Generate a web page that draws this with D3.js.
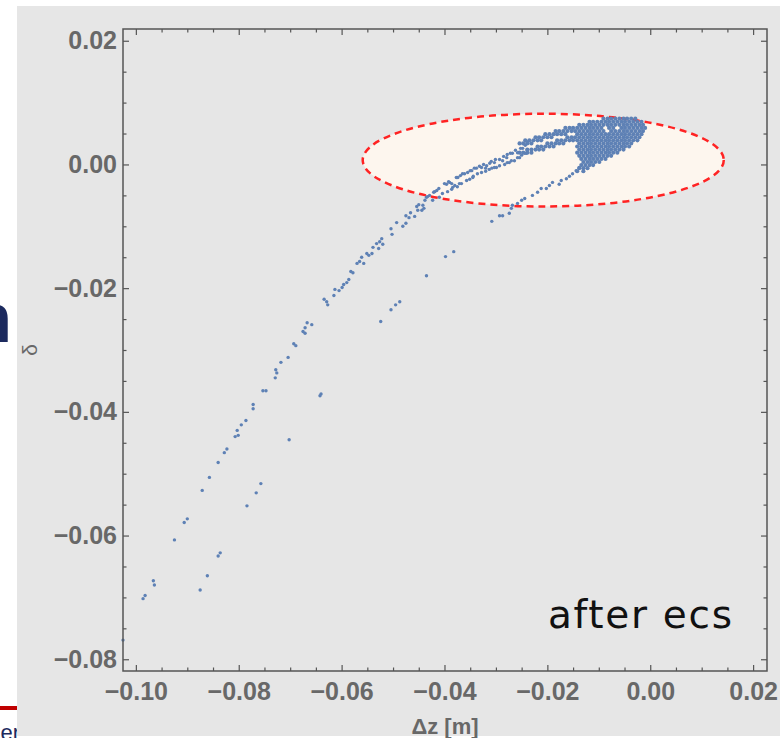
<!DOCTYPE html>
<html>
<head>
<meta charset="utf-8">
<script src="https://cdn.jsdelivr.net/npm/d3@7"></script>
<style>
  body { margin: 0; background: #fff; }
  svg { display: block; }
</style>
</head>
<body>
<div id="viz"></div>
<script>
// tick values
const xTicks = [-0.10, -0.08, -0.06, -0.04, -0.02, 0.00, 0.02];
const yTicks = [0.02, 0.00, -0.02, -0.04, -0.06, -0.08];

// sparse particles, upper arm  [dz, delta]
const upperBranch = [
  [-0.1025,-0.0769],[-0.0986,-0.0702],[-0.0982,-0.0697],[-0.0966,-0.0673],[-0.0964,-0.0680],
  [-0.0925,-0.0607],[-0.0906,-0.0579],[-0.0900,-0.0573],[-0.0871,-0.0527],[-0.0857,-0.0506],
  [-0.0840,-0.0482],[-0.0828,-0.0466],[-0.0823,-0.0460],[-0.0807,-0.0440],[-0.0801,-0.0438],
  [-0.0803,-0.0430],[-0.0795,-0.0421],[-0.0786,-0.0414],[-0.0772,-0.0388],[-0.0772,-0.0395],
  [-0.0753,-0.0366],[-0.0747,-0.0366],[-0.0729,-0.0345],[-0.0726,-0.0337],[-0.0728,-0.0332],
  [-0.0718,-0.0320],[-0.0704,-0.0312],[-0.0693,-0.0290],[-0.0689,-0.0293],[-0.0675,-0.0270],
  [-0.0671,-0.0273],[-0.0671,-0.0264],[-0.0667,-0.0256],[-0.0658,-0.0259],[-0.0634,-0.0218],
  [-0.0629,-0.0222],[-0.0627,-0.0227],[-0.0615,-0.0212],[-0.0613,-0.0202],[-0.0605,-0.0204],
  [-0.0599,-0.0199],[-0.0596,-0.0194],[-0.0590,-0.0191],[-0.0586,-0.0186],[-0.0582,-0.0173],
  [-0.0578,-0.0175],[-0.0570,-0.0160],[-0.0565,-0.0157],[-0.0561,-0.0150],[-0.0557,-0.0160],
  [-0.0551,-0.0144],[-0.0547,-0.0147],[-0.0541,-0.0144],[-0.0539,-0.0134],[-0.0532,-0.0128],
  [-0.0528,-0.0136],[-0.0526,-0.0125],[-0.0522,-0.0120],[-0.0520,-0.0129],[-0.0504,-0.0104],
  [-0.0502,-0.0113],[-0.0493,-0.0094],[-0.0481,-0.0100],[-0.0475,-0.0095],[-0.0475,-0.0083],
  [-0.0469,-0.0086],[-0.0466,-0.0078],[-0.0458,-0.0084],[-0.0454,-0.0068],[-0.0450,-0.0065],
  [-0.0444,-0.0074],[-0.0440,-0.0071],[-0.0438,-0.0058],[-0.0433,-0.0052],[-0.0423,-0.0058],
  [-0.0419,-0.0044],[-0.0411,-0.0039],[-0.0404,-0.0047],[-0.0396,-0.0032],[-0.0386,-0.0031],
  [-0.0384,-0.0037],[-0.0452,-0.0074],[-0.0442,-0.0066],[-0.0435,-0.0053],[-0.0429,-0.0050],
  [-0.0421,-0.0045],[-0.0415,-0.0042],[-0.0390,-0.0029],[-0.0380,-0.0034],[-0.0374,-0.0021],
  [-0.0371,-0.0031],[-0.0365,-0.0015],[-0.0357,-0.0026],[-0.0355,-0.0013],[-0.0347,-0.0010],
  [-0.0345,-0.0021],[-0.0338,-0.0006],[-0.0336,-0.0015],[-0.0328,-0.0005],[-0.0320,-0.0006],
  [-0.0318,-0.0002],[-0.0312,0.0002],[-0.0308,-0.0006],[-0.0303,0.0003],[-0.0299,-0.0005],
  [-0.0293,0.0008],[-0.0287,0.0006],[-0.0283,0.0000],[-0.0279,0.0011],[-0.0274,0.0003],
  [-0.0268,0.0018],[-0.0264,0.0006],[-0.0258,0.0019],[-0.0254,0.0011],[-0.0248,0.0026],
  [-0.0244,0.0018],[-0.0239,0.0036],[-0.0239,0.0023]
];

// extra particles thickening the two parallel streaks entering the ellipse
const innerBands = [
  [-0.0400,-0.0031],[-0.0392,-0.0028],[-0.0377,-0.0021],[-0.0369,-0.0018],[-0.0361,-0.0015],
  [-0.0350,-0.0010],[-0.0342,-0.0006],[-0.0332,-0.0003],[-0.0324,0.0000],[-0.0309,0.0005],
  [-0.0301,0.0008],[-0.0285,0.0013],[-0.0278,0.0016],[-0.0272,0.0018],[-0.0262,0.0023],
  [-0.0252,0.0026],[-0.0243,0.0031],
  [-0.0410,-0.0053],[-0.0394,-0.0044],[-0.0386,-0.0040],[-0.0375,-0.0036],[-0.0367,-0.0031],
  [-0.0351,-0.0024],[-0.0344,-0.0019],[-0.0328,-0.0013],[-0.0320,-0.0011],[-0.0313,-0.0008],
  [-0.0303,-0.0005],[-0.0293,-0.0002],[-0.0278,0.0003],[-0.0270,0.0006],[-0.0258,0.0011],
  [-0.0250,0.0015],[-0.0241,0.0018]
];

// sparse particles, lower arm (hook)
const lowerBranch = [
  [-0.0875,-0.0688],[-0.0861,-0.0665],[-0.0840,-0.0633],[-0.0836,-0.0628],[-0.0784,-0.0552],
  [-0.0766,-0.0531],[-0.0757,-0.0516],[-0.0702,-0.0445],[-0.0642,-0.0374],[-0.0640,-0.0371],
  [-0.0524,-0.0254],[-0.0504,-0.0235],[-0.0495,-0.0227],[-0.0487,-0.0222],[-0.0435,-0.0180],
  [-0.0398,-0.0149],[-0.0382,-0.0141],[-0.0308,-0.0092],[-0.0293,-0.0083],[-0.0287,-0.0083],
  [-0.0274,-0.0079],[-0.0270,-0.0071],[-0.0268,-0.0066],[-0.0258,-0.0063],[-0.0250,-0.0058],
  [-0.0244,-0.0055],[-0.0229,-0.0050],[-0.0219,-0.0045],[-0.0212,-0.0039],[-0.0202,-0.0039],
  [-0.0196,-0.0034],[-0.0190,-0.0029],[-0.0177,-0.0032],[-0.0173,-0.0026],[-0.0163,-0.0023],
  [-0.0157,-0.0019],[-0.0151,-0.0015],[-0.0144,-0.0010],[-0.0138,-0.0005]
];

// dense core, read row by row: [delta, [dz, ...]]
const coreRows = [
  [0.0074, [-0.0091,-0.0083,-0.0076,-0.0068,-0.0060,-0.0052,-0.0045,-0.0037,-0.0029]],
  [0.0069, [-0.0118,-0.0111,-0.0103,-0.0095,-0.0087,-0.0080,-0.0072,-0.0064,-0.0056,-0.0049,-0.0041,-0.0033,-0.0025,-0.0017]],
  [0.0064, [-0.0138,-0.0130,-0.0122,-0.0115,-0.0107,-0.0099,-0.0091,-0.0083,-0.0076,-0.0068,-0.0060,-0.0052,-0.0045,-0.0037,-0.0029,-0.0021,-0.0014]],
  [0.0059, [-0.0165,-0.0157,-0.0150,-0.0142,-0.0134,-0.0126,-0.0118,-0.0111,-0.0103,-0.0095,-0.0080,-0.0072,-0.0056,-0.0049,-0.0041,-0.0033,-0.0025,-0.0017,-0.0010]],
  [0.0054, [-0.0184,-0.0177,-0.0169,-0.0161,-0.0153,-0.0146,-0.0138,-0.0130,-0.0122,-0.0115,-0.0107,-0.0099,-0.0091,-0.0076,-0.0068,-0.0060,-0.0052,-0.0045,-0.0037,-0.0029,-0.0021,-0.0014]],
  [0.0049, [-0.0204,-0.0196,-0.0188,-0.0181,-0.0173,-0.0165,-0.0142,-0.0134,-0.0126,-0.0118,-0.0111,-0.0103,-0.0095,-0.0087,-0.0080,-0.0072,-0.0064,-0.0056,-0.0049,-0.0041,-0.0033,-0.0025,-0.0017]],
  [0.0044, [-0.0223,-0.0216,-0.0208,-0.0200,-0.0192,-0.0161,-0.0153,-0.0146,-0.0138,-0.0130,-0.0122,-0.0115,-0.0107,-0.0099,-0.0091,-0.0083,-0.0076,-0.0068,-0.0060,-0.0052,-0.0045,-0.0037,-0.0029,-0.0021]],
  [0.0039, [-0.0243,-0.0235,-0.0227,-0.0219,-0.0212,-0.0181,-0.0173,-0.0165,-0.0157,-0.0150,-0.0142,-0.0134,-0.0126,-0.0118,-0.0111,-0.0103,-0.0095,-0.0087,-0.0080,-0.0072,-0.0064,-0.0056,-0.0049,-0.0041,-0.0033,-0.0025]],
  [0.0034, [-0.0254,-0.0247,-0.0239,-0.0231,-0.0200,-0.0192,-0.0184,-0.0177,-0.0169,-0.0138,-0.0130,-0.0122,-0.0115,-0.0107,-0.0099,-0.0091,-0.0083,-0.0076,-0.0068,-0.0060,-0.0052,-0.0045,-0.0037]],
  [0.0029, [-0.0219,-0.0212,-0.0204,-0.0196,-0.0188,-0.0142,-0.0134,-0.0126,-0.0118,-0.0111,-0.0103,-0.0095,-0.0087,-0.0080,-0.0072,-0.0064,-0.0056,-0.0049,-0.0041]],
  [0.0024, [-0.0239,-0.0231,-0.0223,-0.0216,-0.0208,-0.0138,-0.0130,-0.0122,-0.0115,-0.0107,-0.0099,-0.0091,-0.0083,-0.0076,-0.0068,-0.0060,-0.0052]],
  [0.0019, [-0.0254,-0.0247,-0.0239,-0.0231,-0.0142,-0.0134,-0.0126,-0.0118,-0.0111,-0.0103,-0.0095,-0.0087,-0.0080,-0.0072,-0.0064]],
  [0.0014, [-0.0138,-0.0130,-0.0122,-0.0115,-0.0107,-0.0099,-0.0091,-0.0083,-0.0076]],
  [0.0009, [-0.0134,-0.0126,-0.0118,-0.0111,-0.0103,-0.0095,-0.0087]],
  [0.0004, [-0.0130,-0.0122,-0.0115,-0.0107,-0.0099]],
  [-0.0001, [-0.0134,-0.0126,-0.0118,-0.0111]],
  [-0.0006, [-0.0138,-0.0130,-0.0122]],
  [-0.0011, [-0.0142,-0.0130]]
];

// highlighted acceptance region (ellipse), data units
const focusCenter = [-0.0208, 0.0007];
const focusRadius = [0.0351, 0.0075];

const width = 780;
const height = 738;
const margin = { top: 29, right: 13, bottom: 67, left: 123 };

const sparse = upperBranch.concat(lowerBranch).concat(innerBands);
const core = coreRows.flatMap(([delta, row]) => row.map(dz => [dz, delta]));

const svg = d3.select("#viz").append("svg")
    .attr("width", width)
    .attr("height", height);

// bits of the slide behind the figure
svg.append("text")
    .attr("x", 12)
    .attr("y", 342)
    .attr("text-anchor", "end")
    .attr("font-family", "Liberation Sans, Arial, sans-serif")
    .attr("font-weight", "bold")
    .attr("font-size", 71)
    .attr("fill", "#1c2a5e")
    .text("n");

svg.append("rect")
    .attr("x", 0).attr("y", 706)
    .attr("width", 20).attr("height", 4)
    .attr("fill", "#c00000");

svg.append("text")
    .attr("x", 20)
    .attr("y", 740)
    .attr("text-anchor", "end")
    .attr("font-family", "Liberation Sans, Arial, sans-serif")
    .attr("font-size", 22)
    .attr("fill", "#1c2a5e")
    .text("er");

// figure background
svg.append("rect")
    .attr("x", 17).attr("y", 6)
    .attr("width", width - 17).attr("height", 730)
    .attr("fill", "#e6e6e6");

const x = d3.scaleLinear()
    .domain([-0.1025, 0.0227])
    .range([margin.left, width - margin.right]);

const y = d3.scaleLinear()
    .domain([-0.0819, 0.0219])
    .range([height - margin.bottom, margin.top]);

const plot = svg.append("g");

plot.append("ellipse")
    .attr("cx", x(focusCenter[0]))
    .attr("cy", y(focusCenter[1]))
    .attr("rx", x(focusRadius[0]) - x(0))
    .attr("ry", y(0) - y(focusRadius[1]))
    .attr("fill", "#fdf6ee")
    .attr("stroke", "#ff2323")
    .attr("stroke-width", 2.5)
    .attr("stroke-dasharray", "7,5");

plot.append("g")
  .selectAll("circle")
  .data(core)
  .enter()
  .append("circle")
    .attr("cx", d => x(d[0]))
    .attr("cy", d => y(d[1]))
    .attr("r", 2.1)
    .attr("fill", "#5e81b5");

plot.append("g")
  .selectAll("circle")
  .data(sparse)
  .enter()
  .append("circle")
    .attr("cx", d => x(d[0]))
    .attr("cy", d => y(d[1]))
    .attr("r", 1.7)
    .attr("fill", "#5e81b5");

// frame + ticks
const fmt = d3.format(".2f");
const xMinor = d3.range(-0.100, 0.0226, 0.005).filter(v => !xTicks.some(t => Math.abs(t - v) < 1e-6));
const yMinor = d3.range(-0.080, 0.0218, 0.005).filter(v => !yTicks.some(t => Math.abs(t - v) < 1e-6));

const x0 = margin.left, x1 = width - margin.right;
const y0 = margin.top, y1 = height - margin.bottom;

function styleAxis(g) {
  g.select(".domain").remove();
  g.attr("color", "#555")
   .attr("font-family", "Liberation Sans, Arial, sans-serif")
   .attr("font-size", 25)
   .attr("font-weight", "bold");
  g.selectAll(".tick line").attr("stroke-width", 1.2);
  g.selectAll(".tick text").attr("fill", "#686868");
}

svg.append("g")
    .attr("transform", `translate(0,${y1})`)
    .call(d3.axisBottom(x).tickValues(xTicks).tickSizeInner(-6).tickSizeOuter(0).tickPadding(11).tickFormat(fmt))
    .call(styleAxis);
svg.append("g")
    .attr("transform", `translate(0,${y1})`)
    .call(d3.axisBottom(x).tickValues(xMinor).tickSizeInner(-3.5).tickSizeOuter(0).tickFormat(""))
    .call(styleAxis);
svg.append("g")
    .attr("transform", `translate(0,${y0})`)
    .call(d3.axisTop(x).tickValues(xTicks).tickSizeInner(-6).tickSizeOuter(0).tickFormat(""))
    .call(styleAxis);
svg.append("g")
    .attr("transform", `translate(0,${y0})`)
    .call(d3.axisTop(x).tickValues(xMinor).tickSizeInner(-3.5).tickSizeOuter(0).tickFormat(""))
    .call(styleAxis);

svg.append("g")
    .attr("transform", `translate(${x0},0)`)
    .call(d3.axisLeft(y).tickValues(yTicks).tickSizeInner(-6).tickSizeOuter(0).tickPadding(6).tickFormat(fmt))
    .call(styleAxis);
svg.append("g")
    .attr("transform", `translate(${x0},0)`)
    .call(d3.axisLeft(y).tickValues(yMinor).tickSizeInner(-3.5).tickSizeOuter(0).tickFormat(""))
    .call(styleAxis);
svg.append("g")
    .attr("transform", `translate(${x1},0)`)
    .call(d3.axisRight(y).tickValues(yTicks).tickSizeInner(-6).tickSizeOuter(0).tickFormat(""))
    .call(styleAxis);
svg.append("g")
    .attr("transform", `translate(${x1},0)`)
    .call(d3.axisRight(y).tickValues(yMinor).tickSizeInner(-3.5).tickSizeOuter(0).tickFormat(""))
    .call(styleAxis);

svg.append("rect")
    .attr("x", x0).attr("y", y0)
    .attr("width", x1 - x0).attr("height", y1 - y0)
    .attr("fill", "none")
    .attr("stroke", "#555")
    .attr("stroke-width", 1.5);

// axis labels
svg.append("text")
    .attr("x", (x0 + x1) / 2)
    .attr("y", 734)
    .attr("text-anchor", "middle")
    .attr("font-family", "Liberation Sans, Arial, sans-serif")
    .attr("font-size", 22)
    .attr("font-weight", "bold")
    .attr("fill", "#686868")
    .text("Δz [m]");

svg.append("text")
    .attr("transform", "translate(37,350) rotate(-90)")
    .attr("text-anchor", "middle")
    .attr("font-family", "Liberation Sans, Arial, sans-serif")
    .attr("font-size", 21)
    .attr("fill", "#686868")
    .text("δ");

svg.append("text")
    .attr("x", 548)
    .attr("y", 628)
    .attr("textLength", 184)
    .attr("lengthAdjust", "spacing")
    .attr("font-family", "DejaVu Sans, sans-serif")
    .attr("font-size", 39)
    .attr("fill", "#111")
    .text("after ecs");
</script>
</body>
</html>
